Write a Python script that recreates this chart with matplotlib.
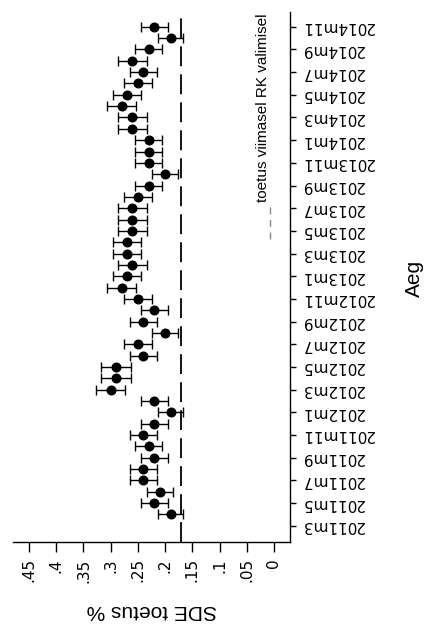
import matplotlib
matplotlib.use("Agg")
import matplotlib.pyplot as plt
from matplotlib.lines import Line2D

# Monthly poll share of SDE with 95% confidence half-widths
months = [
    "2011m4", "2011m5", "2011m6", "2011m7", "2011m8", "2011m9", "2011m10", "2011m11", "2011m12",
    "2012m1", "2012m2", "2012m3", "2012m4", "2012m5", "2012m6", "2012m7", "2012m8", "2012m9",
    "2012m10", "2012m11", "2012m12",
    "2013m1", "2013m2", "2013m3", "2013m4", "2013m5", "2013m6", "2013m7", "2013m8", "2013m9",
    "2013m10", "2013m11", "2013m12",
    "2014m1", "2014m2", "2014m3", "2014m4", "2014m5", "2014m6", "2014m7", "2014m8", "2014m9",
    "2014m10", "2014m11",
]
support = [
    0.19, 0.22, 0.21, 0.24, 0.24, 0.22, 0.23, 0.24, 0.22,
    0.19, 0.22, 0.30, 0.29, 0.29, 0.24, 0.25, 0.20, 0.24,
    0.22, 0.25, 0.28,
    0.27, 0.26, 0.27, 0.27, 0.26, 0.26, 0.26, 0.25, 0.23,
    0.20, 0.23, 0.23,
    0.23, 0.26, 0.26, 0.28, 0.27, 0.25, 0.24, 0.26, 0.23,
    0.19, 0.22,
]
ci_half = [
    0.023, 0.025, 0.024, 0.025, 0.025, 0.025, 0.025, 0.025, 0.025,
    0.023, 0.025, 0.027, 0.027, 0.027, 0.025, 0.026, 0.024, 0.025,
    0.025, 0.026, 0.027,
    0.026, 0.026, 0.026, 0.026, 0.026, 0.026, 0.026, 0.026, 0.025,
    0.024, 0.025, 0.025,
    0.025, 0.026, 0.026, 0.027, 0.026, 0.026, 0.025, 0.026, 0.025,
    0.023, 0.025,
]
election_result = 0.171  # SDE share at the last Riigikogu election

date_ticks = [
    "2011m3", "2011m5", "2011m7", "2011m9", "2011m11",
    "2012m1", "2012m3", "2012m5", "2012m7", "2012m9", "2012m11",
    "2013m1", "2013m3", "2013m5", "2013m7", "2013m9", "2013m11",
    "2014m1", "2014m3", "2014m5", "2014m7", "2014m9", "2014m11",
]
value_ticks = [0, 0.05, 0.1, 0.15, 0.2, 0.25, 0.3, 0.35, 0.4, 0.45]
value_labels = ["0", ".05", ".1", ".15", ".2", ".25", ".3", ".35", ".4", ".45"]


def month_index(label):
    year, month = label.split("m")
    return (int(year) - 2011) * 12 + int(month) - 3


W, H = 425, 635
fig = plt.figure(figsize=(W / 100, H / 100), dpi=100)
fig.patch.set_facecolor("white")

left_px, right_px, top_px, bottom_px = 13, 290, 11.7, 541.7
ax = fig.add_axes([left_px / W, 1 - bottom_px / H,
                   (right_px - left_px) / W, (bottom_px - top_px) / H])

t = [month_index(m) for m in months]

ax.axvline(election_result, color="black", lw=1.3, dashes=(11, 4.5), zorder=2)
ax.errorbar(support, t, xerr=ci_half, fmt="o", color="black", ms=6.2,
            capsize=3.6, elinewidth=1.0, capthick=1.0, zorder=3)

# value axis runs right-to-left, time axis bottom-to-top
ax.set_xlim(0.4794, -0.0294)
ax.set_ylim(-1.41, 45.33)

for s in ("top", "left"):
    ax.spines[s].set_visible(False)
for s in ("right", "bottom"):
    ax.spines[s].set_linewidth(1.0)

tick_font = dict(family="DejaVu Sans", size=11)
ax.set_xticks(value_ticks)
ax.set_xticklabels(value_labels, rotation=90, **tick_font)
ax.tick_params(axis="x", direction="out", length=7, width=1.0, pad=5)

ax.yaxis.tick_right()
ax.set_yticks([month_index(d) for d in date_ticks])
ax.set_yticklabels(date_ticks, rotation=180, va="center", **tick_font)
ax.tick_params(axis="y", direction="out", length=4.5, width=1.0, pad=3.5)

title_font = dict(family="Liberation Sans", size=15)
fig.text(151.5 / W, 1 - 610.5 / H, "SDE toetus %", rotation=180,
         ha="center", va="center", **title_font)
fig.text(414 / W, 1 - 278 / H, "Aeg", rotation=90,
         ha="center", va="center", **title_font)

# legend: dashed key with label
fig.text(263 / W, 1 - 202 / H, "toetus viimasel RK valimisel", rotation=90,
         ha="center", va="bottom", family="Liberation Sans", size=11)
fig.add_artist(Line2D([270 / W, 270 / W], [1 - 206.7 / H, 1 - 241.7 / H],
                      transform=fig.transFigure, color="#888888", lw=1.0,
                      dashes=(5, 4)))

fig.savefig("out.png", dpi=100)
